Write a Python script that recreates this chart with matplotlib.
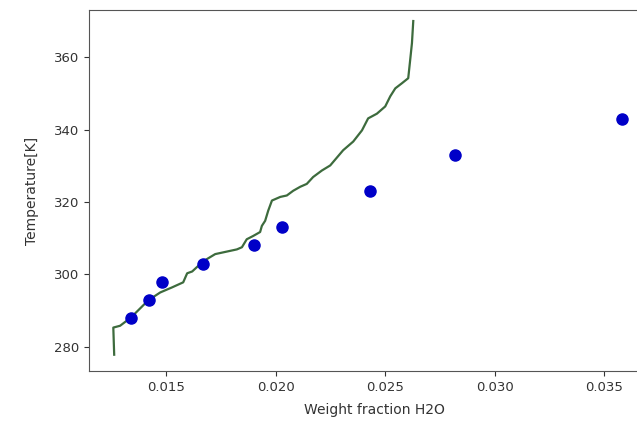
import matplotlib
matplotlib.use("Agg")
import matplotlib.pyplot as plt

# Measured solubility points
meas_w = [0.0134, 0.0142, 0.0148, 0.0167, 0.0190, 0.0203, 0.0243, 0.0282, 0.0358]
meas_T = [288, 293, 298, 303, 308, 313, 323, 333, 343]

# Model curve
model_w = [0.01263, 0.01259, 0.0129, 0.0134, 0.01418, 0.01473, 0.01527, 0.01578,
           0.01596, 0.01619, 0.01669, 0.01724, 0.01823, 0.01846, 0.01868, 0.01897,
           0.01929, 0.01937, 0.01952, 0.01966, 0.01983, 0.02021, 0.02051, 0.0208,
           0.02112, 0.02142, 0.02171, 0.02211, 0.02249, 0.02308, 0.02354, 0.02394,
           0.02422, 0.02462, 0.025, 0.02523, 0.02546, 0.02576, 0.02605, 0.02614,
           0.02622, 0.02628]
model_T = [277.8, 285.3, 285.8, 288.1, 292.8, 295.0, 296.4, 297.8,
           300.3, 300.8, 303.6, 305.6, 306.9, 307.5, 309.7, 310.6,
           311.7, 313.4, 314.8, 317.6, 320.4, 321.4, 321.8, 323.1,
           324.2, 325.0, 326.9, 328.7, 330.1, 334.3, 336.7, 339.8,
           343.1, 344.4, 346.4, 349.2, 351.4, 352.8, 354.2, 359.3,
           363.9, 370.0]

xticks = [0.015, 0.020, 0.025, 0.030, 0.035]
yticks = [280, 300, 320, 340, 360]

fig = plt.figure(figsize=(6.37, 4.24), dpi=100)
ax = fig.add_axes([0.1397, 0.125, 0.895, 0.851])

ax.plot(model_w, model_T, color="#3d6b3d", lw=1.6)
ax.plot(meas_w, meas_T, "o", color="#0000c8", ms=8)

ax.set_xlim(0.01148, 0.0375)
ax.set_ylim(273.3, 373.0)
ax.set_xticks(xticks)
ax.set_xticklabels([f"{v:.3f}" for v in xticks])
ax.set_yticks(yticks)
ax.tick_params(labelsize=9.5, colors="#333333")
for s in ax.spines.values():
    s.set_color("#555555")

ax.set_xlabel("Weight fraction H2O", fontsize=10, color="#333333", labelpad=7)
ax.set_ylabel("Temperature[K]", fontsize=10, color="#333333", labelpad=11)

fig.savefig("out.png", dpi=100)
